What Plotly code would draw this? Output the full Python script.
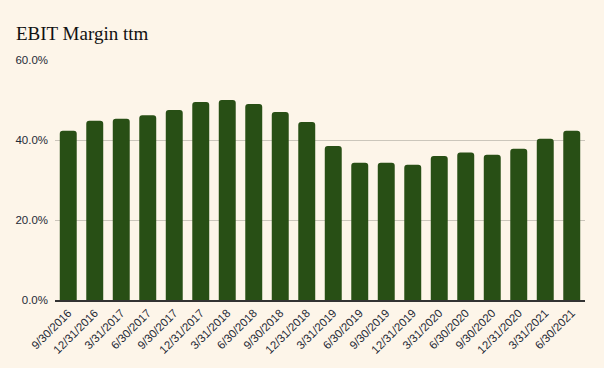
import plotly.graph_objects as go

categories = ["9/30/2016", "12/31/2016", "3/31/2017", "6/30/2017", "9/30/2017",
              "12/31/2017", "3/31/2018", "6/30/2018", "9/30/2018", "12/31/2018",
              "3/31/2019", "6/30/2019", "9/30/2019", "12/31/2019", "3/31/2020",
              "6/30/2020", "9/30/2020", "12/31/2020", "3/31/2021", "6/30/2021"]
ebit_margin = [42.3, 44.8, 45.3, 46.2, 47.5, 49.5, 50.0, 49.0, 47.0, 44.5,
               38.5, 34.3, 34.3, 33.8, 36.0, 36.9, 36.3, 37.8, 40.3, 42.3]
y_ticks = [0, 20, 40, 60]
y_tick_labels = ["0.0%", "20.0%", "40.0%", "60.0%"]

bg = "#fdf5e9"

fig = go.Figure(go.Bar(
    x=categories, y=ebit_margin,
    marker=dict(color="#284f15", cornerradius=3, line=dict(width=0)),
))

fig.update_layout(
    width=604, height=368,
    paper_bgcolor=bg, plot_bgcolor=bg,
    margin=dict(l=55, r=19, t=60, b=68),
    bargap=0.36,
    showlegend=False,
    title=dict(text="EBIT Margin ttm", x=16/604, xref="container", xanchor="left",
               y=1-33/368, yref="container", yanchor="middle",
               font=dict(family="Liberation Serif", size=19, color="#111111")),
    font=dict(family="Liberation Sans", size=11, color="#1f2a36"),
)
fig.update_xaxes(
    type="category", tickangle=-45, showgrid=False,
    showline=True, linecolor="#333333", linewidth=1.5,
    ticks="", tickfont=dict(size=11.5, color="#1f2a36"),
)
fig.update_yaxes(
    range=[0, 60], tickvals=y_ticks, ticktext=y_tick_labels,
    showgrid=True, gridcolor="#cbc6bb", gridwidth=1,
    zeroline=False, showline=False, ticks="", ticklen=0,
    ticklabelstandoff=6,
    tickfont=dict(size=11.5, color="#1f2a36"),
)

fig.write_html("out.html",
               config={"displayModeBar": False},
               post_script="document.body.style.margin='0';document.body.style.background='" + bg + "';")
